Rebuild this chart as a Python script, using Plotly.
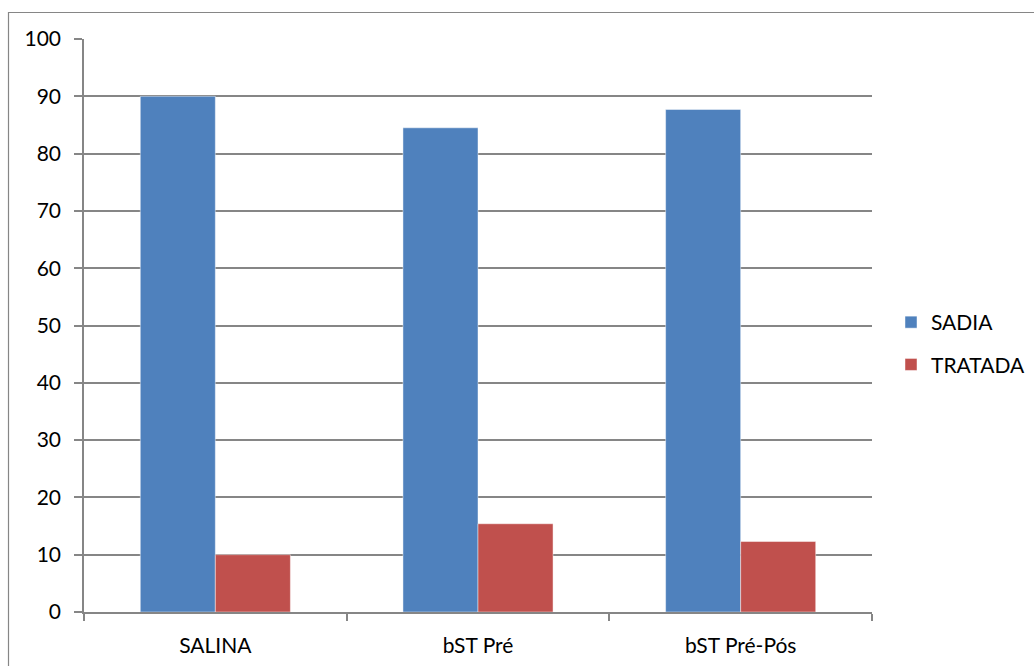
import plotly.graph_objects as go

# Data
categories = ["SALINA", "bST Pré", "bST Pré-Pós"]
sadia = [90.0, 84.5, 87.7]
tratada = [10.0, 15.4, 12.3]

W, H = 1034, 666
L, R, T, B = 84, 162, 39, 54
PW, PH = W - L - R, H - T - B

FONT = "Lato"
FS = 21
GRID = "#868686"

fig = go.Figure()
fig.add_trace(go.Bar(name="SADIA", x=categories, y=sadia,
                     marker=dict(color="#4F81BD", line=dict(color="rgba(255,255,255,0.45)", width=1)),
                     legendgroup="a"))
fig.add_trace(go.Bar(name="TRATADA", x=categories, y=tratada,
                     marker=dict(color="#C0504D", line=dict(color="rgba(255,255,255,0.45)", width=1)),
                     legendgroup="b"))


def px_x(p):
    return (p - L) / PW


def px_y(p):
    return (H - B - p) / PH


# outer chart-area frame
fig.add_shape(type="rect", xref="paper", yref="paper",
              x0=px_x(8.5), x1=px_x(1040), y0=px_y(680), y1=px_y(12.5),
              line=dict(color=GRID, width=1.2), fillcolor="rgba(0,0,0,0)", layer="below")

fig.update_layout(
    width=W, height=H,
    margin=dict(l=L, r=R, t=T, b=B, autoexpand=False),
    paper_bgcolor="white", plot_bgcolor="white",
    barmode="group", bargap=0.4286, bargroupgap=0,
    font=dict(family=FONT, size=FS, color="black"),
    showlegend=True,
    legend=dict(x=px_x(891), y=px_y(302), xanchor="left", yanchor="top",
                font=dict(family=FONT, size=FS, color="black"),
                tracegroupgap=12, bgcolor="rgba(0,0,0,0)"),
    xaxis=dict(type="category", showgrid=False, showline=True, linecolor=GRID, linewidth=1.5,
               ticks="outside", tickson="boundaries", ticklen=7, tickcolor=GRID, tickwidth=1.5,
               ticklabelstandoff=14, tickfont=dict(family=FONT, size=FS)),
    yaxis=dict(range=[0, 100], dtick=10, tick0=0, showgrid=True, gridcolor=GRID, gridwidth=1.5,
               showline=True, linecolor=GRID, linewidth=1.5, zeroline=False,
               ticks="outside", ticklen=8, tickcolor=GRID, tickwidth=1.5,
               ticklabelstandoff=9, tickfont=dict(family=FONT, size=FS)),
)

fig.write_html("out.html")
